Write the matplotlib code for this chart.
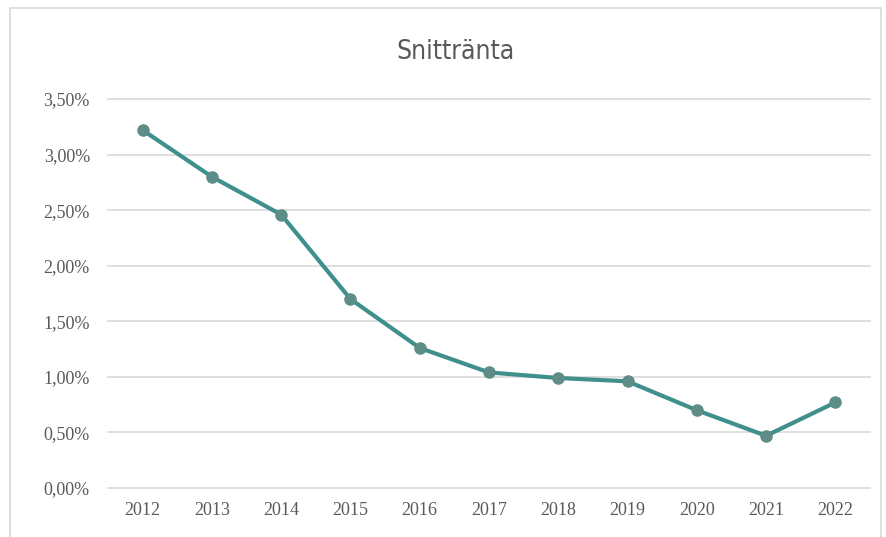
import matplotlib.pyplot as plt
from matplotlib.patches import Rectangle

years = ['2012', '2013', '2014', '2015', '2016', '2017', '2018', '2019', '2020', '2021', '2022']
rates = [3.22, 2.80, 2.46, 1.70, 1.26, 1.04, 0.99, 0.96, 0.70, 0.47, 0.77]
yticks = [0.0, 0.5, 1.0, 1.5, 2.0, 2.5, 3.0, 3.5]
title = 'Snittränta'

fig = plt.figure(figsize=(8.87, 5.37), dpi=100)
fig.patches.append(Rectangle((0.011, -0.02), 0.982, 1.005, transform=fig.transFigure,
                             fill=False, edgecolor='#d9d9d9', linewidth=1.2))

ax = fig.add_axes([0.1218, 0.0912, 0.859, 0.7244])
x = list(range(len(years)))
ax.plot(x, rates, color='#3f8f8c', linewidth=3, marker='o', markersize=8,
        markerfacecolor='#5e8c86', markeredgecolor='#5e8c86', zorder=3)

ax.set_xlim(-0.5, len(years) - 0.5)
ax.set_ylim(0, 3.5)
ax.set_yticks(yticks)
ax.set_yticklabels([('%.2f%%' % v).replace('.', ',') for v in yticks])
ax.set_xticks(x)
ax.set_xticklabels(years)
ax.grid(axis='y', color='#d9d9d9', linewidth=1.2)
for gl in ax.get_ygridlines():
    gl.set_clip_on(False)
ax.set_axisbelow(True)
for s in ax.spines.values():
    s.set_visible(False)
ax.tick_params(length=0, labelsize=13, labelcolor='#595959', pad=10)
for lab in ax.get_xticklabels() + ax.get_yticklabels():
    lab.set_family('Liberation Serif')
ax.tick_params(axis='y', pad=13)

fig.text(0.513, 0.903, title, ha='center', va='center', fontsize=19,
         color='#595959', family='DejaVu Sans', fontstretch='condensed')

fig.savefig('out.png', dpi=100, facecolor='white')
